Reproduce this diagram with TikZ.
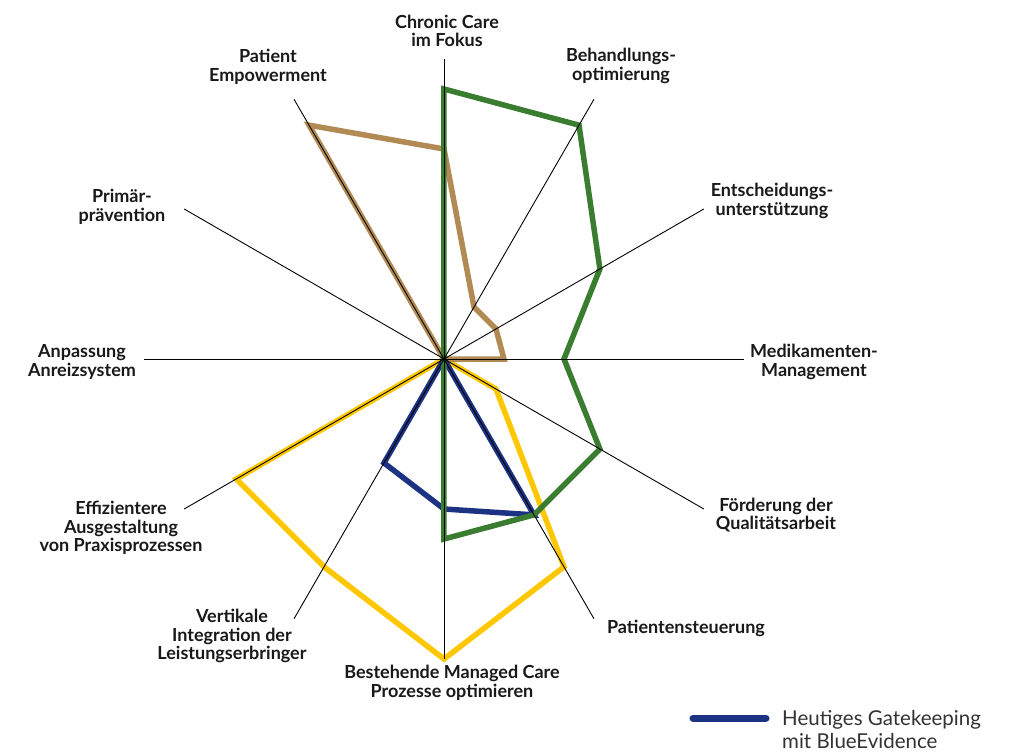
\documentclass[tikz,border=0pt]{standalone}
\usepackage{fontspec}
\setmainfont{Lato}
\begin{document}
\begin{tikzpicture}[x=1pt,y=1pt,
  lbl/.style={align=center,font=\fontsize{18}{18.5}\selectfont\bfseries,text=black!90,inner sep=0pt},
  axisline/.style={draw=black,line width=0.9pt},
  series/.style={line width=5.5pt,line join=miter},
]
\definecolor{cgreen}{RGB}{58,125,48}
\definecolor{cbrown}{RGB}{178,139,84}
\definecolor{cyellow}{RGB}{255,199,0}
\definecolor{cblue}{RGB}{28,50,130}
\definecolor{ctext}{RGB}{51,51,51}
\useasboundingbox (-444,-396) rectangle (565,359);
\fill[white] (-444,-396) rectangle (565,359);
\coordinate (c) at (0,0);
% axis ends (radius 300 = 10 units)
\foreach \n/\a in {a0/90,a1/60,a2/30,a3/0,a4/-30,a5/-60,a6/-90,a7/-120,a8/-150,a9/180,a10/150,a11/120}
  \coordinate (\n) at (\a:300);
% series
\draw[series,cyellow] (c) -- (-30:60) -- (-60:240) -- (-90:300) -- (-120:240) -- (-150:240) -- cycle;
\draw[series,cbrown] (c) -- (0:60) -- (30:60) -- (60:60) -- (90:210) -- (120:270) -- cycle;
\draw[series,cblue] (c) -- (-60:180) -- (-90:150) -- (-120:120) -- cycle;
\draw[series,cgreen] (c) -- (90:270) -- (60:270) -- (30:180) -- (0:120) -- (-30:180) -- (-60:180) -- (-90:180) -- cycle;
% axes
\foreach \n in {a0,a1,a2,a3,a4,a5,a6,a7,a8,a9,a10,a11}
  \draw[axisline] (c) -- (\n);
% labels
\node[lbl] (l0) at (3,328) {Chronic Care\\im Fokus};
\node[lbl] (l1) at (177,293) {Behandlungs-\\optimierung};
\node[lbl] (l2) at (328,158) {Entscheidungs-\\unterstützung};
\node[lbl] (l3) at (370,-3) {Medikamenten-\\Management};
\node[lbl] (l4) at (332,-156) {Förderung der\\Qualitätsarbeit};
\node[lbl] (l5) at (242,-269) {Patientensteuerung};
\node[lbl] (l6) at (8,-324) {Bestehende Managed Care\\Prozesse optimieren};
\node[lbl] (l7) at (-212,-277) {Vertikale\\Integration der\\Leistungserbringer};
\node[lbl] (l8) at (-323,-169) {Effizientere\\Ausgestaltung\\von Praxisprozessen};
\node[lbl] (l9) at (-362,-3) {Anpassung\\Anreizsystem};
\node[lbl] (l10) at (-322,152) {Primär-\\prävention};
\node[lbl] (l11) at (-176,292) {Patient\\Empowerment};
% legend
\coordinate (lg1) at (249,-359);
\coordinate (lg2) at (322,-359);
\draw[cblue,line width=7pt,line cap=round] (lg1) -- (lg2);
\node[anchor=west,align=left,inner sep=0pt,text=ctext,font=\fontsize{20.5}{23}\selectfont] (lgt) at (338,-371) {Heutiges Gatekeeping\\mit BlueEvidence};
\end{tikzpicture}
\end{document}
